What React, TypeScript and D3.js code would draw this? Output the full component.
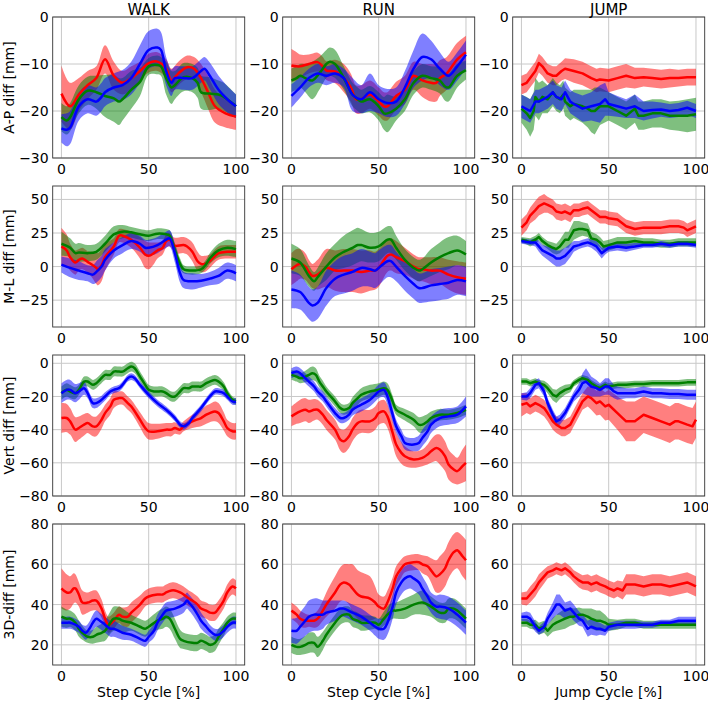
import React from 'react';
import * as d3 from 'd3';

type Pt = [number, number, number]; // [cycle %, mean, spread]

const columns = ['WALK', 'RUN', 'JUMP'];
const rowLabels = ['A-P diff [mm]', 'M-L diff [mm]', 'Vert diff [mm]', '3D-diff [mm]'];
const xLabels = ['Step Cycle [%]', 'Step Cycle [%]', 'Jump Cycle [%]'];
const xTicks = [0, 50, 100];
const yTicksByRow = [[-30, -20, -10, 0], [-25, 0, 25, 50], [-80, -60, -40, -20, 0], [20, 40, 60, 80]];
const yDomains: [number, number][] = [[-30, 0], [-45, 60], [-80, 5], [10, 80]];
const colors = ['#ff0000', '#008000', '#0000ff'];

// ---- A-P ----
const walkApRed: Pt[] = [[0,-16.3,6],[5,-19,5],[10,-16.5,3.5],[15,-14.5,3],[20,-13,2.5],[25,-9,3],[30,-12.5,3],[35,-14,2.5],[40,-13,2.5],[45,-11.5,2],[50,-9.8,2],[55,-9.5,2],[60,-11,2],[63,-13.5,2.5],[67,-12,2.5],[72,-10.7,2.5],[76,-11,2.5],[80,-13,3],[84,-16,3.5],[88,-19,3.5],[94,-20.5,3],[100,-21.2,2.8]];
const walkApGreen: Pt[] = [[0,-21.3,3],[3,-22,3],[5,-21.3,3],[10,-17.5,3],[15,-15.7,3],[20,-16,3.5],[25,-16.8,4.5],[30,-17.3,5],[33,-18,5],[35,-17.5,4.5],[40,-15.5,4],[45,-13.8,3],[50,-10.5,1.8],[55,-10.2,2],[57,-10.5,2],[60,-13,3.5],[63,-15,3.5],[65,-14.5,3],[70,-12.8,3],[75,-13,3],[78,-14,3.2],[80,-16,3.5],[85,-16.3,3.5],[90,-16.5,3],[93,-17,3],[100,-19,2.5]];
const walkApBlue: Pt[] = [[0,-23.7,3],[3,-24,3.5],[5,-23.5,3.5],[10,-19,3],[15,-17.5,3],[20,-18,3],[23,-17,3],[25,-16,3],[30,-15,3],[35,-14.5,3.2],[40,-13,3.5],[45,-10,4],[50,-7,4],[55,-6.5,4],[57,-7,3.8],[60,-11.5,3],[63,-14,2.8],[65,-13,2.5],[70,-13,2.5],[75,-13,2.5],[80,-11.5,2.5],[82,-11,2.5],[85,-12.5,2.8],[90,-15.5,3],[95,-17.5,2.8],[100,-19,2.5]];

const runApRed: Pt[] = [[0,-10.3,3.5],[3,-10.5,3],[5,-10.5,2.5],[10,-10,2],[15,-9.6,2],[18,-10.5,2],[20,-11.4,2],[25,-11.6,2.5],[30,-13,3],[34,-15,3],[37,-17.5,3],[40,-17.5,3],[45,-16.5,3],[50,-18,3],[53,-19,3],[55,-19,3],[60,-16.8,3],[65,-15.5,3],[70,-12.5,3],[75,-13.5,3.5],[80,-14,4],[83,-14,4],[85,-13,3.8],[89,-12,3.5],[95,-9,3.5],[100,-7.5,3.5]];
const runApGreen: Pt[] = [[0,-13.5,2.5],[3,-13,2.5],[5,-12.5,2.5],[8,-13,3],[12,-13.5,4],[16,-12,3.5],[20,-10,3],[22,-9.5,3],[25,-10,3],[30,-13,2.5],[35,-16.5,2.5],[38,-17.5,2.5],[40,-18,2.5],[45,-17.5,2.8],[50,-19,3],[53,-20.5,3.5],[55,-20.5,4],[60,-19.5,2.5],[65,-17.5,2.5],[70,-14,2.5],[75,-12.5,2.5],[80,-13,2.5],[85,-13.5,2.8],[88,-14.8,3],[90,-15,3],[95,-12.5,2.5],[100,-11.3,2]];
const runApBlue: Pt[] = [[0,-16.8,2.5],[5,-15,2.2],[10,-13,2],[15,-12,2],[20,-12.5,2],[25,-12,2],[30,-13,2],[35,-16.5,3.5],[40,-17.5,3],[45,-16,4],[50,-17.5,3],[55,-18.3,3],[60,-18,3],[65,-15,3.5],[70,-11,4],[75,-8.5,5],[80,-9,4],[85,-11,3.5],[90,-12.5,3],[95,-10.5,3],[100,-8,3]];

const jumpApRed: Pt[] = [[0,-14.5,2],[3,-14,2],[5,-13,2],[8,-11.5,2],[10,-9.8,2],[12,-10.5,2],[15,-12,2],[18,-12.5,2],[20,-12.5,2],[23,-11.5,2],[25,-11,2.2],[30,-11.5,2.5],[35,-12,2.5],[40,-13,2.5],[43,-13.5,2.5],[45,-13.3,2.5],[50,-13.5,2.5],[55,-13,2.5],[60,-12.5,2.5],[65,-13,2.2],[70,-12.8,2],[75,-13,2],[80,-13.2,2],[85,-13,2],[90,-13,1.8],[95,-12.8,1.8],[100,-12.8,1.8]];
const jumpApGreen: Pt[] = [[0,-19.5,3],[3,-20.5,3.5],[5,-21.5,4],[7,-20,4],[8,-17,4],[10,-18,4],[12,-17,3.5],[15,-17.5,3],[18,-16,3],[20,-17,3],[22,-17.5,3],[24,-16.5,3],[25,-18,3],[28,-19,3],[30,-18.5,3],[35,-19,3.5],[38,-19.5,4],[40,-20,4.5],[42,-20,5],[45,-19,4],[50,-19,3],[55,-20,3],[60,-21,3],[65,-19.5,3],[67,-21,3],[70,-21,3],[75,-20.5,3],[80,-20.5,3],[85,-21,3],[90,-21,3.2],[95,-21,3.5],[100,-20.7,3.5]];
const jumpApBlue: Pt[] = [[0,-19,2.5],[5,-20,2.5],[8,-18,2.5],[10,-18,2.5],[15,-17,2.5],[18,-16,2.5],[20,-17,2.5],[23,-17.5,2.5],[25,-16,2.5],[28,-18,2.5],[30,-18.5,2.5],[35,-19.5,2.8],[40,-19,3],[45,-18.5,4],[48,-17.5,3.5],[50,-18.5,2.5],[55,-19,2.2],[60,-19.5,2],[65,-19,2.5],[70,-20,2],[75,-19.8,1.8],[80,-19.7,1.5],[85,-20,1.5],[90,-19.8,1.5],[95,-19.3,1.5],[100,-20,1.5]];

// ---- M-L ----
const walkMlRed: Pt[] = [[0,15,14],[3,12,12],[5,7,10],[8,3,9],[10,5,8],[12,6,8],[15,3.5,8],[18,1,10],[20,-1,12],[21,-2,12],[23,1,12],[25,7,10],[30,15,6],[33,23,5],[35,23,5],[40,20,6],[45,14,8],[48,9,10],[50,8,10],[53,10,8],[55,12,6],[58,14,5],[60,19,5],[62,20,5],[64,17,5],[65,15.5,6],[70,16,6],[72,15,6],[75,11,7],[78,4,7],[80,2,6],[82,2,6],[85,4,5],[90,10,5],[95,11,5],[100,11,5]];
const walkMlGreen: Pt[] = [[0,17,9],[5,14,7],[8,10,7],[10,10.5,7],[15,10,6],[20,11,6],[25,17,6],[30,24,6],[35,26,5],[40,25.5,4],[45,24,4],[50,23,4],[55,24.5,4],[60,24,4],[62,23,4],[65,12,5],[68,2,4],[70,-2,3],[75,-3,3],[80,-2,3],[83,2,3.5],[85,6,4],[90,12,5],[95,14,6],[100,13,6]];
const walkMlBlue: Pt[] = [[0,1.5,6],[5,-1,7],[10,-3,7],[15,-5,6],[18,-6,7],[20,-4,8],[23,0,8],[25,5,8],[30,12,6],[35,16,6],[40,19,6],[45,17,6],[48,14,6],[50,14,6],[55,16,6],[60,20,6],[62,21,6],[65,10,7],[68,-5,7],[70,-10,6],[75,-11,6],[80,-10.5,5],[85,-9,5],[90,-7,6],[95,-3,6],[100,-5,6]];

const runMlRed: Pt[] = [[0,-2,12],[3,1,12],[5,2,11],[8,0,10],[10,-4,9],[12,-7,9],[15,-6,11],[20,-1,14],[25,-3,15],[30,-3,16],[35,-3,16],[40,-4,16],[45,-3,15],[48,-3,14],[50,-1,14],[55,8,12],[57,9,12],[60,7,12],[65,4,10],[70,0,9],[73,-2,9],[75,-2,9],[80,-3,10],[85,-3,10],[90,-6,11],[95,-8,12],[100,-9,12]];
const runMlGreen: Pt[] = [[0,6,11],[5,3,10],[10,-7,8],[13,-11,7],[15,-8,7],[20,0,10],[25,7,10],[30,11,12],[35,14,13],[38,16,13],[40,16,12],[45,14,11],[50,15,11],[55,20,10],[57,20,10],[60,14,9],[65,5,8],[70,-1,8],[73,-3,8],[75,-2,8],[80,3,10],[85,7,11],[90,10,12],[95,12,11],[100,9,10]];
const runMlBlue: Pt[] = [[0,-17,14],[5,-19,13],[10,-27,12],[12,-29,12],[15,-27,12],[20,-16,13],[25,-9,13],[30,-6,14],[35,-4,14],[40,-1,14],[45,-2,13],[48,-3,13],[50,-1,13],[55,4,12],[57,4,12],[60,0,11],[65,-7,11],[70,-13,11],[73,-16,11],[75,-16,11],[80,-14,12],[85,-13,12],[90,-12,12],[95,-10,11],[100,-11,11]];

const jumpMlRed: Pt[] = [[0,29,6],[3,33,6],[5,38,6],[8,42,7],[10,45,7],[13,47,7],[15,46,6],[18,44,6],[20,41,6],[23,40,6],[25,41,6],[28,39,6],[30,42,5],[33,42,5],[35,43,5],[38,44,5],[40,42,5],[43,39,5],[45,37,5],[48,37,5],[50,36,5],[55,35,5],[58,32,5],[60,30,5],[65,28,5],[70,29,5],[75,29,5],[80,29,5],[85,30,5],[90,30,5],[93,29,5],[95,27,5],[100,30,5]];
const jumpMlGreen: Pt[] = [[0,20,2],[3,19,2.5],[5,18,3],[8,20,3],[10,22,3],[12,19,3],[15,16,3],[18,14,4],[20,13,4],[22,15,5],[25,20,6],[27,20,6],[30,27,7],[33,28,6],[35,28,5],[38,27,5],[40,21,5],[43,20,4],[45,18,4],[47,15,4],[50,16,4],[55,18,4],[60,18,4],[65,19,3],[70,18,3],[75,18,3],[80,17,3],[85,17,3],[90,18,3],[95,18,3],[100,18,3]];
const jumpMlBlue: Pt[] = [[0,19,2],[5,18,2],[8,18,3],[10,15,4],[12,12,4],[15,10,5],[18,8,6],[20,6,6],[22,6,6],[25,8,6],[28,12,5],[30,15,4],[33,16,3],[35,17,3],[38,18,3],[40,17,3],[43,15,4],[46,10,4],[48,12,3],[50,14,3],[55,15,3],[60,14,3],[65,15,2.5],[70,16,2],[75,16,2],[80,17,2],[85,16,2],[90,17,2],[95,17,2],[100,16,2]];

// ---- Vert ----
const walkVertRed: Pt[] = [[0,-33,9],[3,-33,8.5],[5,-35,8],[8,-40,7.5],[10,-39,7],[13,-37,6.5],[15,-36,6],[18,-38,6],[20,-38,6],[23,-34,5.5],[25,-30,5],[28,-26,5],[30,-22,5],[33,-21,4],[35,-21,4],[38,-24,4],[40,-26,4],[45,-34,4.5],[48,-39,5],[50,-41,5],[55,-41,4.5],[60,-40,4],[63,-40,4],[65,-39,3.5],[68,-40,3],[70,-38,3],[75,-35,4],[80,-33,5],[83,-31,5.5],[85,-30,5.5],[88,-29,6],[90,-30,6],[93,-35,5.5],[95,-39,5],[98,-41,5],[100,-41,5]];
const walkVertGreen: Pt[] = [[0,-18,4],[3,-16,4],[5,-17,4],[8,-18,3.5],[10,-16,3],[13,-11,3],[15,-11,3],[18,-13,3],[20,-12,3],[22,-10,3],[25,-7,3],[28,-7,3],[30,-5,3],[33,-5,3],[35,-5,3],[38,-3,3],[40,-2,3],[42,-3,3],[45,-8,3],[48,-13,3],[50,-16,3],[53,-17,3],[55,-17,3],[58,-17,3],[60,-18,3],[63,-20,3],[65,-20,3],[68,-17,3],[70,-15,3],[73,-15,3],[75,-14,3],[78,-14,3],[80,-14,3],[83,-12,3],[85,-11,3],[88,-10,3],[90,-11,3],[93,-14,2.5],[95,-18,2.5],[98,-22,2],[100,-23,2]];
const walkVertBlue: Pt[] = [[0,-18,6],[3,-16,6],[5,-16,6],[8,-18,5.5],[10,-17,5],[13,-15,4],[15,-18,3],[18,-24,3],[20,-24,3],[23,-22,2.5],[25,-20,2.5],[28,-17,2],[30,-16,2],[33,-15,2],[35,-13,2],[38,-9,2],[40,-8,2],[42,-9,2],[45,-13,2],[50,-19,2],[55,-24,2],[60,-28,2],[65,-33,2],[68,-37,2],[70,-38,2],[73,-36,2],[75,-33,2],[80,-27,2],[85,-20,2],[88,-17,2],[90,-17,2],[93,-18,2],[95,-20,2],[98,-23,2],[100,-23,2]];

const runVertRed: Pt[] = [[0,-32,6],[3,-30,6.5],[5,-29,7],[8,-28,7],[10,-29,7],[13,-28,6.5],[15,-28,6],[18,-31,6],[20,-34,6],[25,-40,6],[28,-46,6.5],[30,-47,7],[33,-44,7],[35,-40,7],[38,-36,7],[40,-35,7],[45,-35,7],[48,-33,7],[50,-30,7],[53,-29,7],[55,-32,7],[58,-42,7],[60,-49,7],[63,-54,6.5],[65,-56,6],[70,-58,5],[75,-57,5],[78,-55,6],[80,-53,7],[83,-51,8],[85,-52,9],[88,-56,9],[90,-61,9],[93,-64,8.5],[95,-65,8],[98,-62,10],[100,-60,11]];
const runVertGreen: Pt[] = [[0,-7,3],[3,-8,3],[5,-9,3],[8,-8,3.5],[10,-7,4],[12,-6,4],[14,-7,4],[16,-11,3.5],[18,-14,3.5],[20,-17,3],[25,-23,3],[28,-27,3],[30,-28,3],[33,-27,3],[35,-24,3.5],[38,-21,4],[40,-19,4],[45,-17,4],[50,-16,4],[53,-15,4],[55,-16,4],[58,-23,3.5],[60,-28,3],[65,-31,3.5],[70,-34,4],[73,-37,4.5],[75,-37,5],[78,-35,4.5],[80,-33,4],[85,-31,3.5],[90,-31,3],[95,-30,3],[100,-28,3]];
const runVertBlue: Pt[] = [[0,-6,3],[3,-5,3],[5,-6,3],[8,-9,3],[10,-11,3],[13,-14,3],[15,-17,3],[18,-20,3],[20,-23,3],[25,-30,3],[28,-33,3],[30,-33,3],[33,-31,3],[35,-28,3.5],[38,-26,4],[40,-25,4],[45,-22,4],[48,-19,4],[50,-17,4],[53,-16,4.5],[55,-20,5],[58,-31,4.5],[60,-38,4],[63,-44,4],[65,-48,4],[68,-49,4],[70,-49,4],[73,-48,4.5],[75,-45,5],[78,-41,5],[80,-37,5],[85,-33,5],[90,-32,5],[95,-31,5],[100,-26,6]];

const jumpVertRed: Pt[] = [[0,-25,7],[3,-24,6],[5,-26,5],[8,-24,5],[10,-25,5],[13,-27,5],[15,-30,5],[18,-35,5],[20,-37,5],[23,-39,5],[25,-39,5],[28,-37,5],[30,-33,5],[33,-27,5],[35,-23,5],[38,-20,6],[40,-21,7],[43,-24,7.5],[45,-23,8],[48,-26,8.5],[50,-25,9],[55,-30,10],[58,-33,11],[60,-35,12],[65,-35,12],[70,-31,11],[75,-33,11],[80,-35,11],[85,-37,11],[88,-35,11],[90,-35,11],[95,-37,11],[98,-38,11],[100,-34,11]];
const jumpVertGreen: Pt[] = [[0,-11,2],[3,-11,2],[5,-12,2],[8,-11,2],[10,-12,2],[13,-13,2.5],[15,-15,3],[18,-19,3.5],[20,-20,4],[22,-18,3.5],[25,-16,3],[28,-15,2.5],[30,-12,2],[33,-10,2],[35,-9,2],[38,-10,2],[40,-12,2],[43,-14,2],[45,-15,2],[48,-13,2],[50,-14,2],[55,-13,2],[60,-13,2],[65,-12.5,2],[70,-12.5,2],[75,-12,2],[80,-12,2],[85,-12,2],[90,-12,2],[95,-11.5,2],[100,-11.5,2]];
const jumpVertBlue: Pt[] = [[0,-20,2],[3,-20,2.5],[5,-18,3],[8,-13,3],[10,-12,3],[13,-17,3],[15,-24,3],[18,-31,3],[20,-35,3],[22,-34,3],[25,-30,3],[28,-24,3],[30,-20,3],[33,-16,4],[35,-12,6],[37,-11,8],[40,-14,6],[43,-15,5],[45,-16,4],[48,-14,5],[50,-14,5],[53,-17,4],[55,-18,4],[60,-18,3],[65,-18,3],[70,-17,3],[75,-18,3],[80,-18,3],[85,-18.5,3],[90,-18.5,3],[95,-19,3],[100,-19,3]];

// ---- 3D ----
const walk3dRed: Pt[] = [[0,48,10],[3,46,9],[5,46,8],[7,48,7.5],[8,48,7],[10,45,6],[12,41,6],[15,41,5],[18,42,5],[20,42,5],[23,38,4.5],[25,33,4],[27,30,4],[30,32,4],[33,35,4],[35,34,4.5],[38,34,5],[40,36,5],[45,40,4.5],[48,43,4],[50,44,4],[55,45,4],[58,45,4],[60,46,4],[63,47,4],[65,47,4],[68,46,4],[70,45,4],[73,43,4],[75,42,4],[78,40,4],[80,38,4],[83,37,4],[85,36,4],[88,36,4],[90,38,4],[93,42,4],[95,46,4],[98,49,4],[100,48,4]];
const walk3dGreen: Pt[] = [[0,34,5],[3,33,4.5],[5,33,4],[8,31,4],[10,28,4],[12,26,3.5],[15,24,3],[18,24,3.5],[20,25,4],[23,26,4.5],[25,27,5],[28,31,5.5],[30,33,6],[33,33,6],[35,32,6],[40,31,4],[45,29,4],[48,28,4],[50,29,4],[55,32,4.5],[58,33,5],[60,34,5],[62,33,5],[65,28,5],[68,23,4.5],[70,22,4],[75,21,4],[78,21,4],[80,22,4],[83,21,4],[85,20,4],[88,21,4],[90,24,4],[93,28,3.5],[95,31,3],[98,33,3],[100,33,3]];
const walk3dBlue: Pt[] = [[0,31,3],[3,31,3],[5,31,3],[8,30,3],[10,29,3],[12,27,3],[14,26,3.5],[16,28,3.5],[18,31,4],[20,33,4],[22,32,4],[25,30,4],[28,28,4],[30,28,4],[35,26,3.5],[40,25,3],[45,23,3],[48,22,3],[50,24,3],[53,27,3.5],[55,31,4],[58,35,4],[60,37,4],[65,38,4],[70,40,4],[72,42,4],[73,41,4],[75,39,4],[78,35,4],[80,32,4],[83,29,3.5],[85,27,3],[88,25,3],[90,25,3],[93,27,3],[95,29,3],[98,31,3],[100,31,3]];

const run3dRed: Pt[] = [[0,37,4],[3,35,4],[5,33,4],[8,32,3.5],[10,32,3],[13,32,3.5],[15,33,4],[18,37,5],[20,40,6],[25,46,8],[28,50,8.5],[30,51,9],[33,50,10],[35,48,12],[38,45,12],[40,44,12],[45,43,11],[48,41,8],[50,39,6],[53,38,6],[55,41,6],[58,48,5.5],[60,54,5],[63,58,4.5],[65,60,4],[70,61,4],[73,61,4],[75,60,4.5],[78,59,5],[80,57,6],[83,54,8],[85,55,9],[88,58,9],[90,62,9],[93,66,9],[95,67,9],[98,64,10],[100,62,10]];
const run3dGreen: Pt[] = [[0,20,4],[3,19,4],[5,19,4],[8,20,4.5],[10,21,5],[13,21,5],[15,19,5],[18,22,4.5],[20,25,4],[25,31,4],[28,34,4],[30,35,4],[33,35,4],[35,33,4],[38,32,4],[40,31,4],[45,31,3.5],[48,31,3],[50,30,3],[53,33,3.5],[55,35,4],[58,37,4],[60,37,4],[65,38,5],[70,40,5],[75,41,6],[80,39,5],[85,36,5],[88,36,5],[90,38,5],[93,38,5],[95,37,5],[100,33,5]];
const run3dBlue: Pt[] = [[0,27,6],[3,27,6.5],[5,29,7],[8,32,7.5],[10,34,8],[13,35,8],[15,35,8],[18,35,7],[20,36,6],[25,37,5],[28,38,4],[30,38,4],[35,36,4],[40,34,4],[45,31,4],[48,29,4.5],[50,28,5],[53,28,5.5],[55,31,6],[58,39,6],[60,46,6],[63,51,6],[65,53,6],[68,54,6],[70,53,6],[73,51,6],[75,48,6],[78,44,5.5],[80,41,5],[83,39,5.5],[85,39,6],[90,38,6],[95,35,6],[100,31,6]];

const jump3dRed: Pt[] = [[0,43,3],[3,43,3.5],[5,45,4],[8,48,4],[10,51,4],[13,54,3.5],[15,56,3],[18,57,3],[20,58,3],[23,57,3],[25,58,3],[28,56,3],[30,54,3],[33,52,3.5],[35,51,3.5],[38,51,4],[40,50,4],[43,51,4],[45,50,4],[48,49,4],[50,48,4],[53,47,4],[55,48,4],[58,47,4.5],[60,50,5],[65,50,5],[70,49,5],[75,50,5],[80,50,5],[85,49,5],[90,50,5],[95,51,5],[100,49,5]];
const jump3dGreen: Pt[] = [[0,31,2],[3,31,2],[5,30,2],[8,30,2.5],[10,28,3],[13,29,3],[15,27,3],[18,30,3.5],[20,31,4],[25,33,5],[28,34,4.5],[30,34,4],[33,35,3.5],[35,35,3],[38,34,4],[40,33,5],[43,32,5],[45,32,5],[48,31,4],[50,30,3],[55,30,2.5],[60,31,2],[65,31,2],[70,30,2],[75,30,2],[80,30,2],[85,30,2],[90,30,2],[95,30,2],[100,30,2]];
const jump3dBlue: Pt[] = [[0,34,2],[3,34,2.5],[5,33,3],[8,29,2.5],[10,27,2],[13,29,2.5],[15,33,3],[18,37,4],[20,40,5],[22,40,5],[25,37,4],[28,38,4],[30,36,4],[33,33,3.5],[35,32,3],[38,28,4],[40,29,4],[43,28,3.5],[45,28,3],[48,27,2.5],[50,29,2],[55,30,2],[60,30,2],[65,30,2],[70,30,1.5],[75,30,1.5],[80,31,1.5],[85,31,1.5],[90,32,2],[95,32,2],[100,32,2]];

const grid: Pt[][][] = [
  [[walkApRed, walkApGreen, walkApBlue], [runApRed, runApGreen, runApBlue], [jumpApRed, jumpApGreen, jumpApBlue]],
  [[walkMlRed, walkMlGreen, walkMlBlue], [runMlRed, runMlGreen, runMlBlue], [jumpMlRed, jumpMlGreen, jumpMlBlue]],
  [[walkVertRed, walkVertGreen, walkVertBlue], [runVertRed, runVertGreen, runVertBlue], [jumpVertRed, jumpVertGreen, jumpVertBlue]],
  [[walk3dRed, walk3dGreen, walk3dBlue], [run3dRed, run3dGreen, run3dBlue], [jump3dRed, jump3dGreen, jump3dBlue]],
];

const W = 708, H = 702;
const colLeft = [52.7, 282.7, 512.7];
const rowTop = [17, 186, 355, 524];
const PW = 192, PH = 141;
const FONT = 'DejaVu Sans, sans-serif';

const fmt = (v: number) => (v < 0 ? '\u2212' + Math.abs(v) : String(v));

function Panel({ row, col }: { row: number; col: number }) {
  const left = colLeft[col], top = rowTop[row];
  const x = d3.scaleLinear().domain([-5, 105]).range([left, left + PW]);
  const y = d3.scaleLinear().domain(yDomains[row]).range([top + PH, top]);
  const curve = col === 2 ? d3.curveLinear : d3.curveCatmullRom.alpha(0.5);
  const area = d3.area<Pt>().x(d => x(d[0])).y0(d => y(d[1] - d[2])).y1(d => y(d[1] + d[2])).curve(curve);
  const line = d3.line<Pt>().x(d => x(d[0])).y(d => y(d[1])).curve(curve);
  const series = grid[row][col];
  const clipId = `clip-${row}-${col}`;

  return (
    <g>
      <defs>
        <clipPath id={clipId}><rect x={left} y={top} width={PW} height={PH} /></clipPath>
      </defs>
      {/* grid */}
      {xTicks.map(t => (
        <line key={'gx' + t} x1={x(t)} x2={x(t)} y1={top} y2={top + PH} stroke="#c8c8c8" strokeWidth={1} />
      ))}
      {yTicksByRow[row].map(t => (
        <line key={'gy' + t} x1={left} x2={left + PW} y1={y(t)} y2={y(t)} stroke="#c8c8c8" strokeWidth={1} />
      ))}
      <g clipPath={`url(#${clipId})`}>
        {series.map((s, i) => (
          <path key={'a' + i} d={area(s) || ''} fill={colors[i]} fillOpacity={0.5} stroke="none" />
        ))}
        {series.map((s, i) => (
          <path key={'l' + i} d={line(s) || ''} fill="none" stroke={colors[i]} strokeWidth={2.5} strokeLinejoin="round" />
        ))}
      </g>
      <rect x={left} y={top} width={PW} height={PH} fill="none" stroke="#333" strokeWidth={0.9} />
      {/* ticks */}
      {xTicks.map(t => (
        <text key={'tx' + t} x={x(t)} y={top + PH + 16} textAnchor="middle" fontSize={14} fontFamily={FONT} fill="#000">{fmt(t)}</text>
      ))}
      {yTicksByRow[row].map(t => (
        <text key={'ty' + t} x={left - 4} y={y(t)} dy="0.36em" textAnchor="end" fontSize={14} fontFamily={FONT} fill="#000">{fmt(t)}</text>
      ))}
      {row === 0 && (
        <text x={left + PW / 2} y={top - 2.5} textAnchor="middle" fontSize={15} fontFamily={FONT} fill="#000">{columns[col]}</text>
      )}
      {row === 3 && (
        <text x={left + PW / 2} y={top + PH + 32} textAnchor="middle" fontSize={14} fontFamily={FONT} fill="#000">{xLabels[col]}</text>
      )}
      {col === 0 && (
        <text transform={`translate(13.5,${top + PH / 2}) rotate(-90)`} textAnchor="middle" fontSize={14} fontFamily={FONT} fill="#000">{rowLabels[row]}</text>
      )}
    </g>
  );
}

export default function App() {
  const cells: { row: number; col: number }[] = [];
  for (let r = 0; r < 4; r++) for (let c = 0; c < 3; c++) cells.push({ row: r, col: c });
  return (
    <svg width={W} height={H} style={{ position: 'absolute', left: 0, top: 0, background: '#fff' }}>
      {cells.map(c => <Panel key={`${c.row}-${c.col}`} row={c.row} col={c.col} />)}
    </svg>
  );
}
